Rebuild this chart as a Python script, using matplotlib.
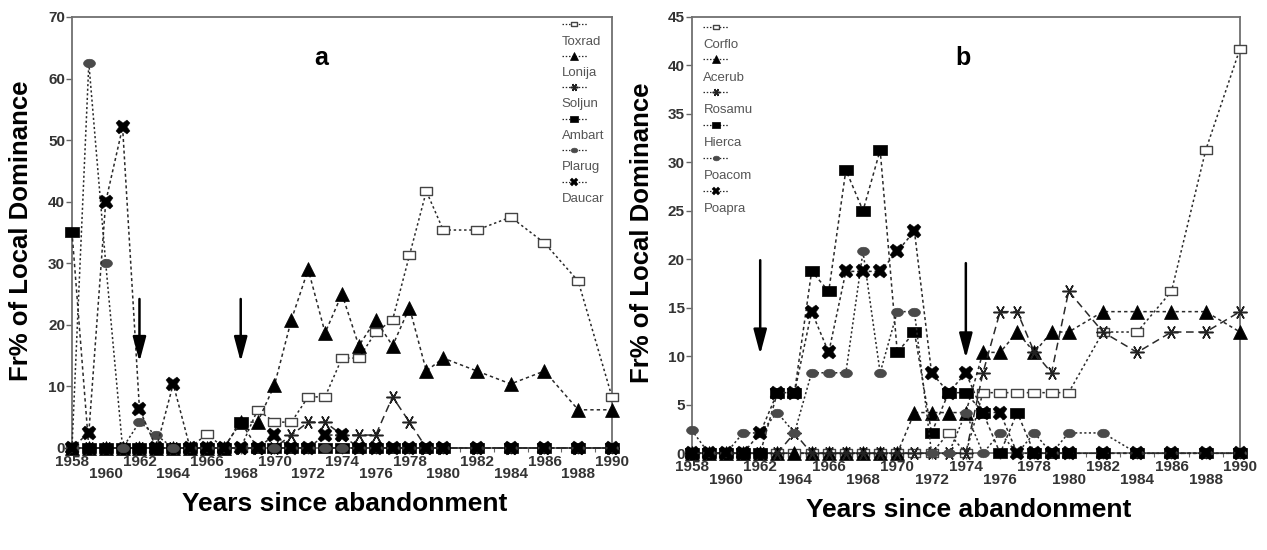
import matplotlib
matplotlib.use("Agg")
import matplotlib.pyplot as plt
from matplotlib.lines import Line2D
import numpy as np

plt.rcParams['font.family'] = ['Liberation Sans', 'DejaVu Sans']

# ---------------- data ----------------
years = [1958, 1959, 1960, 1961, 1962, 1963, 1964, 1965, 1966, 1967, 1968, 1969,
         1970, 1971, 1972, 1973, 1974, 1975, 1976, 1977, 1978, 1979, 1980,
         1982, 1984, 1986, 1988, 1990]

# panel a
species_a = ["Toxrad", "Lonija", "Soljun", "Ambart", "Plarug", "Daucar"]
toxrad = [0, 0, 0, 0, 0, 0, 0, 0, 2.3, 0, 0, 6.2,
          4.2, 4.2, 8.3, 8.3, 14.6, 14.6, 18.8, 20.8, 31.3, 41.7, 35.4,
          35.4, 37.5, 33.3, 27.1, 8.3]
lonija = [0, 0, 0, 0, 0, 0, 0, 0, 0, 0, 4.2, 4.2,
          10.2, 20.8, 29.0, 18.7, 25.0, 16.6, 20.8, 16.6, 22.8, 12.5, 14.6,
          12.5, 10.4, 12.5, 6.2, 6.2]
soljun = [0, 0, 0, 0, 0, 0, 0, 0, 0, 0, 0, 0,
          0, 2.1, 4.2, 4.2, 2.1, 2.1, 2.1, 8.3, 4.2, 0, 0,
          0, 0, 0, 0, 0]
ambart = [35.1, 0, 0, 0, 0, 0, 0, 0, 0, 0, 4.2, 0,
          0, 0, 0, 0, 0, 0, 0, 0, 0, 0, 0,
          0, 0, 0, 0, 0]
plarug = [0, 62.5, 30.0, 0, 4.2, 2.1, 0, 0, 0, 0, 0, 0,
          0, 0, 0, 0, 0, 0, 0, 0, 0, 0, 0,
          0, 0, 0, 0, 0]
daucar = [0, 2.5, 40.0, 52.1, 6.3, 0, 10.4, 0, 0, 0, 0, 0,
          2.1, 0, 0, 2.1, 2.1, 0, 0, 0, 0, 0, 0,
          0, 0, 0, 0, 0]
values_a = [toxrad, lonija, soljun, ambart, plarug, daucar]

# panel b
species_b = ["Corflo", "Acerub", "Rosamu", "Hierca", "Poacom", "Poapra"]
corflo = [0, 0, 0, 0, 0, 0, 0, 0, 0, 0, 0, 0,
          0, 0, 0, 2.1, 0, 6.25, 6.25, 6.25, 6.25, 6.25, 6.25,
          12.5, 12.5, 16.7, 31.25, 41.7]
acerub = [0, 0, 0, 0, 0, 0, 0, 0, 0, 0, 0, 0,
          0, 4.2, 4.2, 4.2, 4.2, 10.4, 10.4, 12.5, 10.4, 12.5, 12.5,
          14.6, 14.6, 14.6, 14.6, 12.5]
rosamu = [0, 0, 0, 0, 0, 0, 2.1, 0, 0, 0, 0, 0,
          0, 0, 0, 0, 0, 8.3, 14.6, 14.6, 10.4, 8.3, 16.7,
          12.5, 10.4, 12.5, 12.5, 14.6]
hierca = [0, 0, 0, 0, 0, 6.25, 6.25, 18.75, 16.7, 29.2, 25.0, 31.25,
          10.4, 12.5, 2.1, 6.25, 6.25, 4.2, 0, 4.2, 0, 0, 0,
          0, 0, 0, 0, 0]
poacom = [2.4, 0, 0, 2.1, 2.1, 4.2, 2.1, 8.3, 8.3, 8.3, 20.8, 8.3,
          14.6, 14.6, 0, 0, 4.2, 0, 2.1, 0, 2.1, 0, 2.1,
          2.1, 0, 0, 0, 0]
poapra = [0, 0, 0, 0, 2.1, 6.25, 6.25, 14.6, 10.4, 18.75, 18.75, 18.75,
          20.8, 22.9, 8.3, 6.25, 8.3, 4.2, 4.2, 0, 0, 0, 0,
          0, 0, 0, 0, 0]
values_b = [corflo, acerub, rosamu, hierca, poacom, poapra]

# arrows (year, start value, tip value)
arrows_a = [(1962, 24.2, 14.0), (1968, 24.2, 14.0)]
arrows_b = [(1962, 19.9, 10.2), (1974, 19.6, 9.8)]

tick_years = list(range(1958, 1991, 2))
minor_years = list(range(1958, 1991))

# ---------------- styles ----------------
rect = [(-1, -0.7), (1, -0.7), (1, 0.7), (-1, 0.7), (-1, -0.7)]
ell = [(np.cos(t), 0.72 * np.sin(t)) for t in np.linspace(0, 2 * np.pi, 25)]
LC = '#2a2a2a'
styles = [
    dict(marker=rect, ms=9, mfc='white', mec='#444444', mew=1.0, dashes=(1.6, 1.8)),
    dict(marker='^', ms=9.5, mfc='black', mec='black', mew=0.5, dashes=(2.2, 2.0)),
    dict(marker=(6, 2, 90), ms=10, mfc='black', mec='#222222', mew=1.1, dashes=(5.0, 3.0)),
    dict(marker=rect, ms=10, mfc='black', mec='black', mew=0.5, dashes=(2.2, 2.0)),
    dict(marker=ell, ms=8.5, mfc='#4a4a4a', mec='#4a4a4a', mew=0.5, dashes=(1.4, 1.6)),
    dict(marker='X', ms=10.5, mfc='black', mec='black', mew=0.3, dashes=(2.0, 1.8)),
]

fig = plt.figure(figsize=(12.67, 5.5), dpi=100)
ax_a = fig.add_axes([0.0568, 0.1855, 0.4262, 0.7836])
ax_b = fig.add_axes([0.5459, 0.1758, 0.4328, 0.7939])


def draw_panel(ax, names, values, ymax, ystep, arrows, letter, letter_pos,
               leg_anchor, leg_spacing, ylab_x, xlab_y):
    for name, vals, st in zip(names, values, styles):
        ax.plot(years, vals, color=LC, lw=1.1, linestyle='--', dashes=st['dashes'],
                marker=st['marker'], ms=st['ms'], mfc=st['mfc'], mec=st['mec'],
                mew=st['mew'], clip_on=False, zorder=3)
    ax.set_xlim(1958, 1990)
    ax.set_ylim(0, ymax)
    ax.set_yticks(np.arange(0, ymax + 0.1, ystep))
    ax.set_yticklabels([f"{int(v)}" for v in np.arange(0, ymax + 0.1, ystep)])
    ax.set_xticks(tick_years)
    ax.set_xticklabels([str(y) if i % 2 == 0 else "\n" + str(y)
                        for i, y in enumerate(tick_years)])
    ax.set_xticks(minor_years, minor=True)
    for lbl in ax.get_xticklabels():
        lbl.set_linespacing(0.85)
    ax.tick_params(axis='both', which='major', direction='out', length=4, width=1,
                   color='#666666', labelsize=11, labelcolor='#333333', pad=1)
    ax.tick_params(axis='x', which='minor', direction='out', length=3, width=0.8,
                   color='#666666')
    for lbl in ax.get_xticklabels() + ax.get_yticklabels():
        lbl.set_fontweight('bold')
    for sp in ax.spines.values():
        sp.set_color('#707070')
        sp.set_linewidth(1.3)
    ax.set_ylabel("Fr% of Local Dominance", fontsize=18.5, fontweight='bold')
    ax.set_xlabel("Years since abandonment", fontsize=19, fontweight='bold')
    ax.yaxis.set_label_coords(ylab_x, 0.505)
    ax.xaxis.set_label_coords(0.505, xlab_y)
    for (yr, y0, y1) in arrows:
        ax.annotate('', xy=(yr, y1), xytext=(yr, y0),
                    arrowprops=dict(arrowstyle='-|>,head_length=0.75,head_width=0.2',
                                    lw=1.8, color='black', mutation_scale=20,
                                    shrinkA=0, shrinkB=0), zorder=4)
    ax.text(letter_pos[0], letter_pos[1], letter, transform=ax.transAxes,
            fontsize=18, fontweight='bold', ha='center', va='center')
    # legend: handle above label
    handles, labels = [], []
    for name, st in zip(names, styles):
        handles.append(Line2D([], [], color=LC, lw=0.9, linestyle='--',
                              dashes=(1.2, 1.4), marker=st['marker'], ms=st['ms'],
                              mfc=st['mfc'], mec=st['mec'], mew=st['mew']))
        labels.append(" ")
        handles.append(Line2D([], [], linestyle='none', marker=None))
        labels.append(name)
    ax.legend(handles, labels, loc='upper left', bbox_to_anchor=leg_anchor,
              frameon=False, handlelength=1.9, handletextpad=-1.9,
              labelspacing=leg_spacing, borderpad=0, borderaxespad=0, fontsize=9.5,
              markerscale=0.55, numpoints=1, labelcolor='#555555')


draw_panel(ax_a, species_a, values_a, 70, 10, arrows_a, 'a', (0.462, 0.904),
           (0.907, 0.994), 0.265, -0.072, -0.102)
draw_panel(ax_b, species_b, values_b, 45, 5, arrows_b, 'b', (0.495, 0.9045),
           (0.0215, 0.988), 0.32, -0.069, -0.103)

fig.savefig("out.png", dpi=100)
